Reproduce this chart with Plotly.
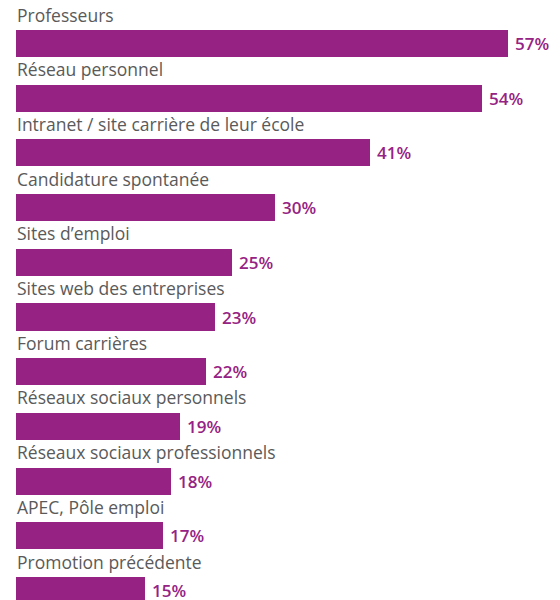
import plotly.graph_objects as go

categories = ["Professeurs", "Réseau personnel", "Intranet / site carrière de leur école",
              "Candidature spontanée", "Sites d’emploi", "Sites web des entreprises",
              "Forum carrières", "Réseaux sociaux personnels", "Réseaux sociaux professionnels",
              "APEC, Pôle emploi", "Promotion précédente"]
values = [57, 54, 41, 30, 25, 23, 22, 19, 18, 17, 15]
value_labels = [f"{v}%" for v in values]

BAR = "#962384"
GREY = "#5a5a5a"
pos = list(range(len(categories)))

fig = go.Figure()
fig.add_trace(go.Bar(
    x=values, y=pos, orientation="h", marker=dict(color=BAR, line=dict(width=0)),
    width=0.494, hoverinfo="skip", showlegend=False,
))

for i, (c, v, t) in enumerate(zip(categories, values, value_labels)):
    fig.add_annotation(x=0, y=i - 0.53, text=c, showarrow=False, xanchor="left",
                       yanchor="middle", xshift=-1,
                       font=dict(family="Open Sans", size=17.5, color=GREY))
    fig.add_annotation(x=v, y=i, text=t, showarrow=False, xanchor="left",
                       yanchor="middle", xshift=5,
                       font=dict(family="Open Sans", size=17, color=BAR, weight=600))

fig.update_layout(
    width=560, height=600, margin=dict(l=0, r=0, t=0, b=0),
    paper_bgcolor="white", plot_bgcolor="white",
    xaxis=dict(range=[-0.927, 63.96], visible=False, fixedrange=True),
    yaxis=dict(range=[10.32, -0.649], visible=False, fixedrange=True),
    bargap=0,
)
fig.write_html("out.html")
